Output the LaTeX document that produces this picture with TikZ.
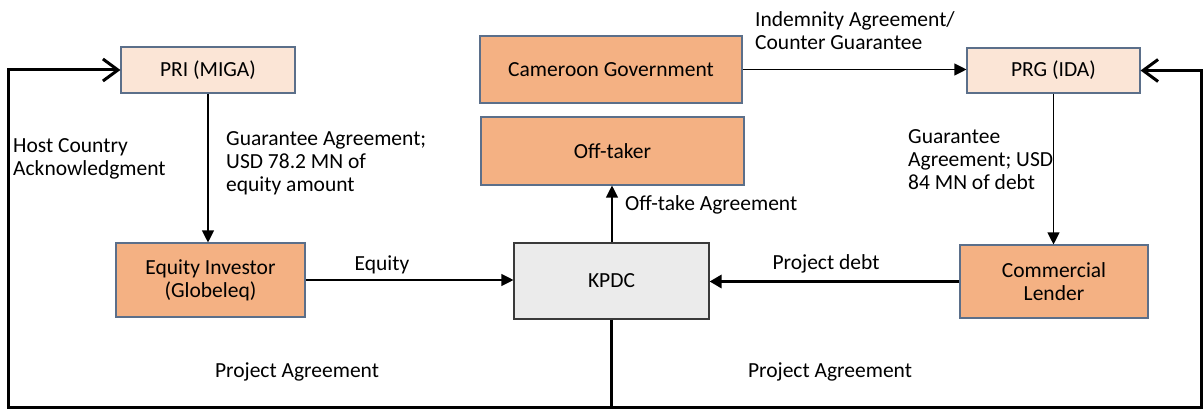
\documentclass[tikz,border=0pt]{standalone}
\usepackage{fontspec}
\setmainfont{Carlito}
\usetikzlibrary{arrows.meta}
\definecolor{orangefill}{HTML}{F4B183}
\definecolor{lightfill}{HTML}{FBE5D6}
\definecolor{greyfill}{HTML}{EBEBEB}
\definecolor{boxline}{HTML}{5B6F8A}
\definecolor{kline}{HTML}{3A3A3A}
\begin{document}
\begin{tikzpicture}[x=1pt,y=-1pt,
  every node/.style={font=\fontsize{21.5}{23}\selectfont, inner sep=0pt},
  boxbase/.style={draw=boxline, line width=1.1pt, minimum width=#1},
  orangebox/.style={boxbase=#1, fill=orangefill},
  lightbox/.style={boxbase=#1, fill=lightfill},
  greybox/.style={draw=kline, line width=1.1pt, fill=greyfill, minimum width=#1},
  lbl/.style={align=left, anchor=west},
  thinarr/.style={line width=1.1pt, -{Triangle[length=12pt,width=12pt]}},
  thickarr/.style={line width=3pt, -{Triangle[length=12pt,width=13pt]}},
  looparr/.style={line width=3pt, line join=miter, -{Straight Barb[length=15pt,width=22pt,line width=3pt]}}
]
\useasboundingbox (0,0) rectangle (1203,409);

% boxes
\node[lightbox=174pt, minimum height=46pt] (pri) at (208,70) {PRI (MIGA)};
\node[orangebox=262pt, minimum height=67pt] (gov) at (611,69.5) {Cameroon Government};
\node[orangebox=263pt, minimum height=68pt] (off) at (612.5,151) {Off-taker};
\node[lightbox=173pt, minimum height=45pt] (prg) at (1053.5,70.5) {PRG (IDA)};
\node[orangebox=189pt, minimum height=74pt, align=center] (eq) at (210.5,280) {Equity Investor\\(Globeleq)};
\node[greybox=195pt, minimum height=76pt] (kpdc) at (611.5,281) {KPDC};
\node[orangebox=188pt, minimum height=73pt, align=center] (cl) at (1054,281.5) {Commercial\\Lender};

% loop corners
\coordinate (bl) at (8,407);
\coordinate (br) at (1201,407);

% connectors
\draw[thinarr] (pri.south) -- (pri.south |- eq.north);
\draw[thinarr] (eq.east) -- (eq.east -| kpdc.west);
\draw[thinarr] (gov.east) -- (gov.east -| prg.west);
\draw[thinarr] (prg.south) -- (prg.south |- cl.north);
\draw[thinarr] (kpdc.north -| 612,0) -- (off.south -| 612,0);
\draw[thickarr] (cl.west) -- (cl.west -| kpdc.east);
\draw[looparr] (kpdc.south) |- (bl) |- (pri.west);
\draw[looparr] (kpdc.south |- br) -- (br) |- (prg.east);

% labels
\node[lbl] (hc) at (13,158.5) {Host Country\\Acknowledgment};
\node[lbl] (ga1) at (226,163) {Guarantee Agreement;\\USD 78.2 MN of\\equity amount};
\node[lbl] (ind) at (755,30.5) {Indemnity Agreement/\\Counter Guarantee};
\node[lbl] (ga2) at (908,159.5) {Guarantee\\Agreement; USD\\84 MN of debt};
\node (eqt) at (382,265) {Equity};
\node (pd) at (826,264) {Project debt};
\node[lbl] (ota) at (625,205) {Off-take Agreement};
\node (pa1) at (297,372) {Project Agreement};
\node (pa2) at (830,372) {Project Agreement};
\end{tikzpicture}
\end{document}
